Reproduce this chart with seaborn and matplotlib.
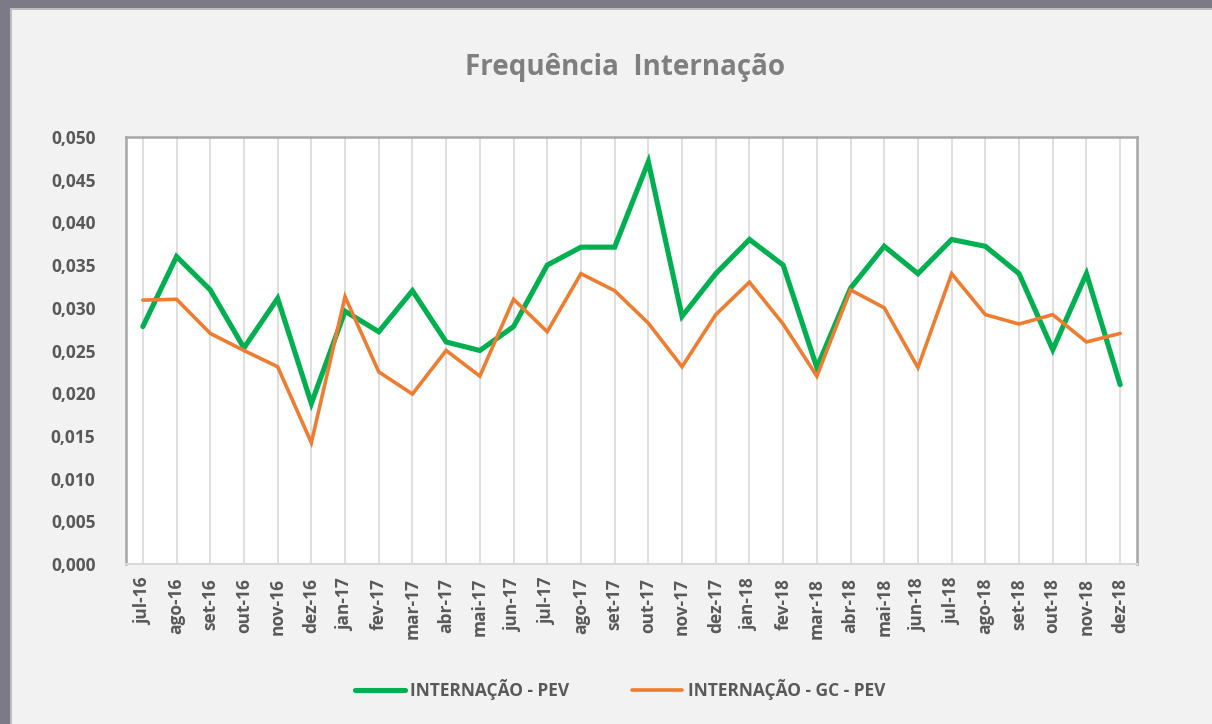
import numpy as np
import pandas as pd
import matplotlib
matplotlib.use("Agg")
import matplotlib.pyplot as plt
import seaborn as sns
from matplotlib.patches import Rectangle
from matplotlib.ticker import FuncFormatter, FixedLocator

# data
meses = ["jul-16", "ago-16", "set-16", "out-16", "nov-16", "dez-16",
         "jan-17", "fev-17", "mar-17", "abr-17", "mai-17", "jun-17",
         "jul-17", "ago-17", "set-17", "out-17", "nov-17", "dez-17",
         "jan-18", "fev-18", "mar-18", "abr-18", "mai-18", "jun-18",
         "jul-18", "ago-18", "set-18", "out-18", "nov-18", "dez-18"]

internacao_pev = [0.0278, 0.0360, 0.0321, 0.0253, 0.0311, 0.0188,
                  0.0296, 0.0272, 0.0320, 0.0260, 0.0250, 0.0278,
                  0.0350, 0.0371, 0.0371, 0.0471, 0.0290, 0.0340,
                  0.0380, 0.0350, 0.0230, 0.0323, 0.0372, 0.0340,
                  0.0380, 0.0372, 0.0340, 0.0251, 0.0340, 0.0210]

internacao_gc_pev = [0.0309, 0.0310, 0.0270, 0.0250, 0.0231, 0.0142,
                     0.0313, 0.0225, 0.0199, 0.0250, 0.0220, 0.0310,
                     0.0272, 0.0340, 0.0320, 0.0282, 0.0231, 0.0292,
                     0.0330, 0.0281, 0.0220, 0.0321, 0.0300, 0.0230,
                     0.0340, 0.0292, 0.0281, 0.0292, 0.0260, 0.0270]

series = ["INTERNAÇÃO - PEV", "INTERNAÇÃO - GC - PEV"]
cores = {"INTERNAÇÃO - PEV": "#00b050", "INTERNAÇÃO - GC - PEV": "#ed7d31"}

n = len(meses)
df = pd.DataFrame({
    "idx": list(range(n)) * 2,
    "valor": internacao_pev + internacao_gc_pev,
    "serie": [series[0]] * n + [series[1]] * n,
})

sns.set_theme(style="white")
plt.rcParams["font.family"] = ["Open Sans", "DejaVu Sans"]
txt = "#595959"

fig = plt.figure(figsize=(12.12, 7.24), dpi=100, facecolor="#f2f2f2")
W, H = 1212, 724
ax = fig.add_axes([126 / W, 1 - 564 / H, (1137 - 126) / W, (564 - 137) / H])
ax.set_facecolor("white")

sns.lineplot(data=df, x="idx", y="valor", hue="serie", palette=cores,
             sort=False, legend=False, ax=ax)
for line, lw in zip(ax.lines, [3.7, 2.6]):
    line.set_linewidth(lw)
    line.set_solid_joinstyle("miter")
    line.set_solid_capstyle("round")

ax.set_xlim(-0.5, n - 0.5)
ax.set_ylim(0, 0.050)
ax.set_yticks(np.arange(0, 0.0501, 0.005))
ax.yaxis.set_major_formatter(FuncFormatter(lambda v, p: f"{v:.3f}".replace(".", ",")))
ax.set_xticks(range(n))
ax.set_xticklabels(meses, rotation=90)
ax.xaxis.set_minor_locator(FixedLocator(np.arange(-0.5, n, 1.0)))
ax.grid(axis="x", which="major", color="#d9d9d9", linewidth=1.2)
ax.set_axisbelow(True)
ax.tick_params(axis="x", which="major", length=0, pad=10, labelsize=12.5, labelcolor=txt)
ax.tick_params(axis="x", which="minor", length=6, color="#d9d9d9", width=1.2)
ax.tick_params(axis="y", length=0, pad=22, labelsize=12.5, labelcolor=txt)
for lab in ax.get_xticklabels() + ax.get_yticklabels():
    lab.set_fontweight("bold")
ax.set_xlabel("")
ax.set_ylabel("")

for side in ["top", "left", "right"]:
    ax.spines[side].set_color("#a6a6a6")
    ax.spines[side].set_linewidth(1.8)
ax.spines["bottom"].set_color("#d9d9d9")
ax.spines["bottom"].set_linewidth(1.5)

fig.text(625 / W, 1 - 68 / H, "Frequência  Internação", ha="center", va="center",
         fontsize=20, fontweight="bold", color="#7f7f7f")

handles = [plt.Line2D([], [], color=cores[s], linewidth=3.7 if i == 0 else 2.6,
                      solid_capstyle="round") for i, s in enumerate(series)]
leg = fig.legend(handles, series, loc="center", bbox_to_anchor=(620 / W, 1 - 690 / H),
                 ncol=2, frameon=False, handlelength=2.9, handletextpad=0.3,
                 columnspacing=3.6, prop={"size": 12.5, "weight": "bold"})
for t in leg.get_texts():
    t.set_color(txt)

# screenshot frame
fig.patches.append(Rectangle((0, 1 - 8 / H), 1, 8 / H, transform=fig.transFigure,
                             facecolor="#7b7a86", edgecolor="none", zorder=0))
fig.patches.append(Rectangle((0, 0), 10 / W, 1, transform=fig.transFigure,
                             facecolor="#7b7a86", edgecolor="none", zorder=0))
fig.patches.append(Rectangle((10 / W, 1 - 10 / H), 1, 2 / H, transform=fig.transFigure,
                             facecolor="#bdbdbd", edgecolor="none", zorder=0))
fig.patches.append(Rectangle((10 / W, 0), 2 / W, 1 - 8 / H, transform=fig.transFigure,
                             facecolor="#bdbdbd", edgecolor="none", zorder=0))

fig.savefig("out.png", dpi=100, facecolor=fig.get_facecolor())
